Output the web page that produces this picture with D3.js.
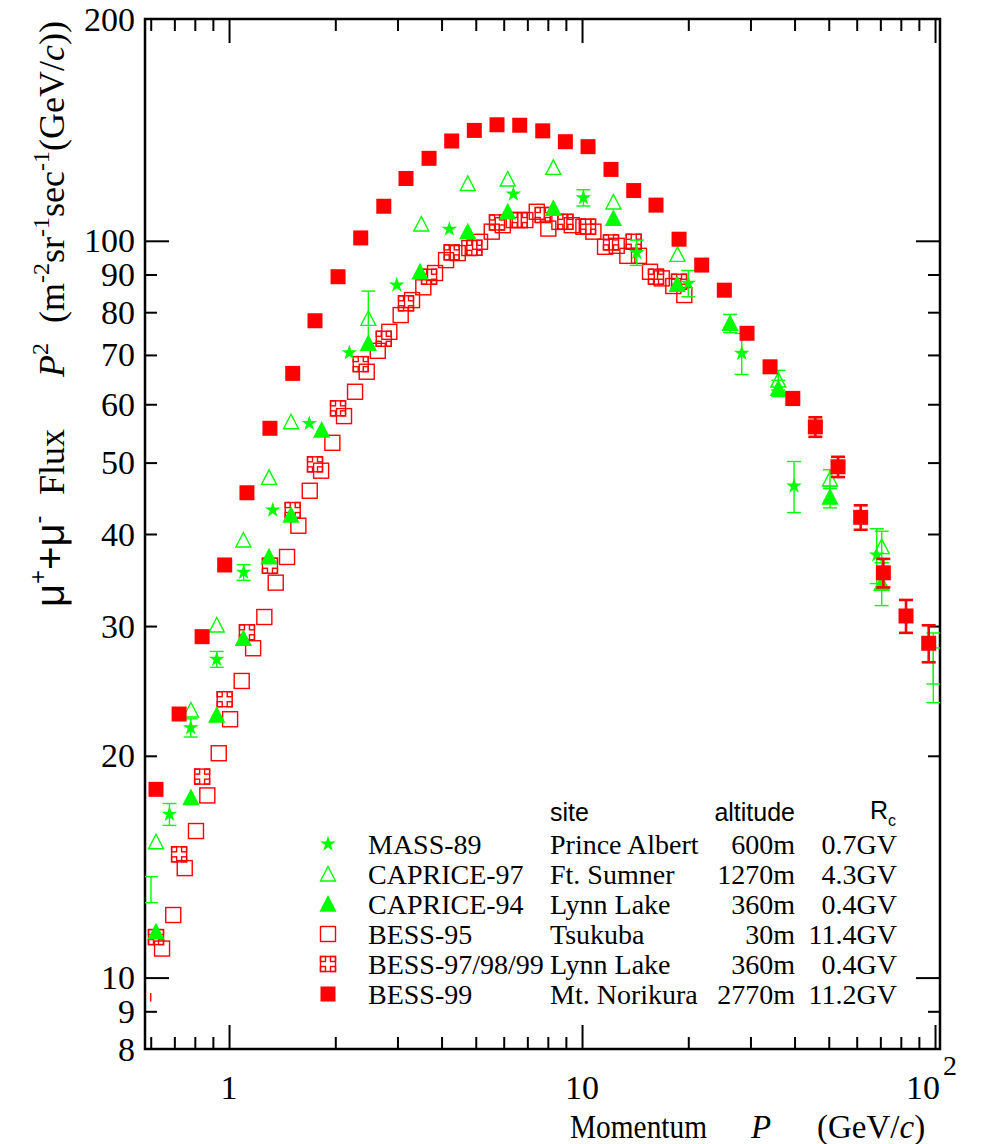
<!DOCTYPE html>
<html><head><meta charset="utf-8">
<script src="https://cdn.jsdelivr.net/npm/d3@7"></script>
<style>body{margin:0;background:#fff} svg{display:block}</style>
</head><body>
<script>
// ---------------- DATA ----------------
// BESS-99 (Mt. Norikura) filled red squares
const bess99P = [0.621,0.722,0.839,0.972,1.124,1.306,1.515,1.752,2.036,2.361,2.744,3.172,3.687,4.274,4.953,5.743,6.661,7.739,8.970,10.40,12.08,14.01,16.20,18.83,21.83,25.30,29.34,34.09,39.54,45.81,53.12,61.58,71.38,82.76,95.98];
const bess99F = [18.01,22.79,29.02,36.31,45.50,55.66,66.08,77.89,89.38,100.9,111.4,121.5,129.4,136.6,141.2,143.7,143.5,141.0,136.3,134.2,125.0,117.0,111.8,100.5,92.7,85.7,74.9,67.45,61.1,55.9,49.35,42.14,35.43,30.96,28.43];
const bess99Err = [0,0,0,0,0,0,0,0,0,0,0,0,0,0,0,0,0,0,0,0,0,0,0,0,0,0,0,0,1.2,1.7,1.56,1.61,1.58,1.59,1.64];
// BESS-97/98/99 (Lynn Lake) crossed red squares
const bess979899P = [0.621,0.722,0.839,0.972,1.124,1.306,1.515,1.752,2.036,2.361,2.744,3.172,3.687,4.274,4.953,5.743,6.661,7.739,8.970,10.40,12.08,14.01,16.20,18.83];
const bess979899F = [11.35,14.70,18.74,23.87,29.42,36.22,43.11,49.73,59.24,68.02,73.62,82.26,89.38,96.44,97.84,105.9,106.7,108.4,106.1,104.5,99.5,99.7,89.38,87.99];
// BESS-95 (Tsukuba) open red squares
const bess95P = [0.646,0.695,0.749,0.806,0.868,0.935,1.007,1.086,1.170,1.259,1.356,1.460,1.572,1.693,1.823,1.962,2.117,2.275,2.455,2.638,2.845,3.064,3.299,3.551,3.833,4.119,4.445,4.794,5.141,5.549,5.963,6.406,6.909,7.442,8.027,8.626,9.351,10.09,10.77,11.62,12.54,13.44,14.50,15.58,16.82,18.14,19.49];
const bess95F = [10.95,12.16,14.08,15.81,17.67,20.16,22.42,25.27,27.99,30.86,34.36,37.23,41.05,45.79,48.75,53.19,57.82,62.39,66.42,70.91,75.24,79.29,83.09,86.47,90.42,94.14,96.23,97.75,99.69,102.9,105.0,106.7,106.7,109.5,103.9,106.1,105.0,104.5,102.9,98.15,98.45,95.41,95.41,90.78,88.92,86.82,84.41];
// MASS-89 (Prince Albert) green stars
const mass89P = [0.678,0.779,0.923,1.100,1.330,1.688,2.192,2.987,4.208,6.390,10.09,14.29,20.00,28.34,39.87,68.37];
const mass89F = [16.66,21.83,27.04,35.48,43.11,56.51,70.47,87.09,103.7,115.7,114.4,96.4,87.55,70.36,46.47,37.46];
const mass89Err = [0.57,0.62,0.67,0.87,0,0,0,0,0,0,2.9,3.8,3.6,4.5,3.7,3.2];
// CAPRICE-97 (Ft. Sumner) open green triangles
const caprice97P = [0.621,0.780,0.923,1.098,1.298,1.498,2.481,3.505,4.745,6.160,8.293,12.27,18.64,35.98,50.41,70.63];
const caprice97F = [15.29,23.08,30.10,39.26,47.75,56.80,78.46,105.4,119.6,121.3,125.8,112.9,95.85,64.71,47.50,38.45];
const caprice97Err = [0,0,0,0,0,0,7,0,0,0,0,0,0,2,1.4,1.9];
// CAPRICE-94 (Lynn Lake) filled green triangles
const caprice94P = [0.621,0.780,0.923,1.098,1.298,1.498,1.830,2.481,3.476,4.745,6.160,8.293,12.27,18.6,26.26,35.98,50.41,70.63];
const caprice94F = [11.54,17.56,22.72,28.87,37.26,42.45,55.36,72.58,90.76,102.9,109.5,110.7,107.3,87.30,77.25,63.06,44.9,34.28];
const caprice94Err = [0,0,0,0,0,0,0,0,0,0,0,0,0,0,2.2,1.6,1.5,2.3];
// error bars whose markers fall off the picture
const looseBarP = [0.601,0.600,98.9,98.9];
const looseBarLo = [12.64,9.28,25.03,23.61];
const looseBarHi = [13.71,9.53,29.36,28.02];
const looseBarColor = ["#00ff00","#ff0000","#00ff00","#00ff00"];
const looseBarCap = [true,false,true,true];

// legend
const legendNames = ["MASS-89","CAPRICE-97","CAPRICE-94","BESS-95","BESS-97/98/99","BESS-99"];
const legendSites = ["Prince Albert","Ft. Sumner","Lynn Lake","Tsukuba","Lynn Lake","Mt. Norikura"];
const legendAlt = ["600m","1270m","360m","30m","360m","2770m"];
const legendRc = ["0.7GV","4.3GV","0.4GV","11.4GV","0.4GV","11.2GV"];
const legendSymbols = ["star","triOpen","triFill","sqOpen","sqCross","sqFill"];
const legendColors = ["#00ff00","#00ff00","#00ff00","#ff0000","#ff0000","#ff0000"];

// ticks
const yLabelTicks = [8,9,10,20,30,40,50,60,70,80,90,100,200];
const yMajorTicks = [10,100];
const yMinorTicks = [9,20,30,40,50,60,70,80,90];
const xMajorTicks = [1,10,100];
const xMinorTicks = [0.6,0.7,0.8,0.9,2,3,4,5,6,7,8,9,20,30,40,50,60,70,80,90];
const xLabelTicks = [1,10,100];

// ---------------- CHART ----------------
const W = 983, H = 1144;
const L = 145, R = 940, T = 19, B = 1049;
const GREEN = "#00ff00", RED = "#ff0000";
const SERIF = "'Liberation Serif','Times New Roman',serif";
const SANS = "'Liberation Sans',Arial,sans-serif";

const svg = d3.select("body").append("svg").attr("width", W).attr("height", H)
  .style("background", "#fff");

const x = d3.scaleLog().domain([0.578, 103.3]).range([L, R]);
const y = d3.scaleLog().domain([8, 200]).range([B, T]);

svg.append("defs").append("clipPath").attr("id", "clip")
  .append("rect").attr("x", L).attr("y", T).attr("width", R - L).attr("height", B - T);

// axes ticks
function axisGroup(axis, tr) {
  const g = svg.append("g").attr("transform", tr).call(axis);
  g.select(".domain").remove();
  g.selectAll(".tick line").attr("stroke", "#000").attr("stroke-width", 2);
  g.selectAll("text").remove();
  return g;
}
axisGroup(d3.axisBottom(x).tickValues(xMajorTicks).tickSizeInner(-24).tickSizeOuter(0), `translate(0,${B})`);
axisGroup(d3.axisBottom(x).tickValues(xMinorTicks).tickSizeInner(-12).tickSizeOuter(0), `translate(0,${B})`);
axisGroup(d3.axisTop(x).tickValues(xMajorTicks).tickSizeInner(-24).tickSizeOuter(0), `translate(0,${T})`);
axisGroup(d3.axisTop(x).tickValues(xMinorTicks).tickSizeInner(-12).tickSizeOuter(0), `translate(0,${T})`);
axisGroup(d3.axisLeft(y).tickValues(yMajorTicks).tickSizeInner(-24).tickSizeOuter(0), `translate(${L},0)`);
axisGroup(d3.axisLeft(y).tickValues(yMinorTicks).tickSizeInner(-12).tickSizeOuter(0), `translate(${L},0)`);
axisGroup(d3.axisRight(y).tickValues(yMajorTicks).tickSizeInner(-24).tickSizeOuter(0), `translate(${R},0)`);
axisGroup(d3.axisRight(y).tickValues(yMinorTicks).tickSizeInner(-12).tickSizeOuter(0), `translate(${R},0)`);

// frame
svg.append("rect").attr("x", L).attr("y", T).attr("width", R - L).attr("height", B - T)
  .attr("fill", "none").attr("stroke", "#000").attr("stroke-width", 2.5);

// y tick labels
svg.append("g").selectAll("text").data(yLabelTicks).join("text")
  .attr("x", L - 10).attr("y", d => y(d)).attr("dy", "0.34em")
  .attr("text-anchor", "end").attr("font-family", SERIF).attr("font-size", 34)
  .text(d => d);

// x tick labels
const xl = svg.append("g").selectAll("text").data(xLabelTicks).join("text")
  .attr("x", d => d === 100 ? x(d) - 29 : x(d)).attr("y", 1099)
  .attr("text-anchor", d => d === 100 ? "start" : "middle")
  .attr("font-family", SERIF).attr("font-size", 34);
xl.each(function(d) {
  const t = d3.select(this);
  if (d === 100) {
    t.append("tspan").text("10");
    t.append("tspan").attr("dy", -24).attr("dx", 3).attr("font-size", 28).text("2");
  } else t.text(d);
});

// x title
const xt = svg.append("text").attr("y", 1138).attr("font-family", SERIF).attr("font-size", 33);
xt.append("tspan").attr("x", 570).attr("textLength", 137).attr("lengthAdjust", "spacingAndGlyphs").text("Momentum");
xt.append("tspan").attr("x", 751).attr("font-style", "italic").text("P");
xt.append("tspan").attr("x", 817).text("(GeV/");
xt.append("tspan").attr("font-style", "italic").text("c");
xt.append("tspan").text(")");

// y title (rotated)
const yt = svg.append("g").attr("transform", "translate(64,607) rotate(-90)");
const mu = yt.append("text").attr("x", 0).attr("y", 0).attr("font-family", SANS).attr("font-size", 40);
mu.append("tspan").text("\u03bc");
mu.append("tspan").attr("dy", -18).attr("font-size", 24).text("+");
mu.append("tspan").attr("dy", 18).text("+\u03bc");
mu.append("tspan").attr("dy", -18).attr("font-size", 24).text("-");
yt.append("text").attr("x", 112).attr("font-family", SERIF).attr("font-size", 36).text("Flux");
const pp = yt.append("text").attr("x", 230).attr("font-family", SERIF).attr("font-size", 36);
pp.append("tspan").attr("font-style", "italic").text("P");
pp.append("tspan").attr("dy", -16).attr("font-size", 24).text("2");
const un = yt.append("text").attr("x", 284).attr("font-family", SERIF).attr("font-size", 36);
un.append("tspan").text("(m");
un.append("tspan").attr("dy", -15).attr("font-size", 24).text("-2");
un.append("tspan").attr("dy", 15).text("sr");
un.append("tspan").attr("dy", -15).attr("font-size", 24).text("-1");
un.append("tspan").attr("dy", 15).text("sec");
un.append("tspan").attr("dy", -15).attr("font-size", 24).text("-1");
un.append("tspan").attr("dy", 15).text("(GeV/");
un.append("tspan").attr("font-style", "italic").text("c");
un.append("tspan").text("))");

// markers
function marker(g, type, cx, cy, color) {
  const s = 7.5;
  if (type === "star") {
    g.append("path").attr("d", d3.symbol(d3.symbolStar, 76)())
      .attr("transform", `translate(${cx},${cy})`).attr("fill", color);
  } else if (type === "triOpen" || type === "triFill") {
    g.append("path").attr("d", `M${cx - 7.5},${cy + 7} L${cx + 7.5},${cy + 7} L${cx},${cy - 7.5} Z`)
      .attr("fill", type === "triFill" ? color : "none").attr("stroke", color).attr("stroke-width", 1.4);
  } else if (type === "sqOpen") {
    g.append("rect").attr("x", cx - s).attr("y", cy - s).attr("width", 2 * s).attr("height", 2 * s)
      .attr("fill", "none").attr("stroke", color).attr("stroke-width", 1.4);
  } else if (type === "sqCross") {
    g.append("rect").attr("x", cx - s).attr("y", cy - s).attr("width", 2 * s).attr("height", 2 * s)
      .attr("fill", "none").attr("stroke", color).attr("stroke-width", 1.4);
    const c = 5;
    [[-s, -s], [s - c, -s], [-s, s - c], [s - c, s - c]].forEach(([dx, dy]) =>
      g.append("rect").attr("x", cx + dx).attr("y", cy + dy).attr("width", c).attr("height", c)
        .attr("fill", "none").attr("stroke", color).attr("stroke-width", 1.4));
  } else if (type === "sqFill") {
    g.append("rect").attr("x", cx - s).attr("y", cy - s).attr("width", 2 * s).attr("height", 2 * s)
      .attr("fill", color);
  }
}

function errBar(g, px, lo, hi, color, sw, cap) {
  g.append("line").attr("x1", px).attr("x2", px).attr("y1", y(lo)).attr("y2", y(hi))
    .attr("stroke", color).attr("stroke-width", sw);
  if (cap) {
    [lo, hi].forEach(v => g.append("line").attr("x1", px - 7).attr("x2", px + 7)
      .attr("y1", y(v)).attr("y2", y(v)).attr("stroke", color).attr("stroke-width", sw));
  }
}

const plot = svg.append("g").attr("clip-path", "url(#clip)");

function series(P, F, E, type, color, sw) {
  const g = plot.append("g");
  P.forEach((p, i) => {
    if (E && E[i] > 0) errBar(g, x(p), F[i] - E[i], F[i] + E[i], color, sw, true);
  });
  P.forEach((p, i) => marker(g, type, x(p), y(F[i]), color));
}

// loose error bars
looseBarP.forEach((p, i) => errBar(plot, x(p), looseBarLo[i], looseBarHi[i], looseBarColor[i], 1.4, looseBarCap[i]));

series(bess95P, bess95F, null, "sqOpen", RED, 1.4);
series(bess979899P, bess979899F, null, "sqCross", RED, 1.4);
series(mass89P, mass89F, mass89Err, "star", GREEN, 1.4);
series(caprice97P, caprice97F, caprice97Err, "triOpen", GREEN, 1.4);
series(caprice94P, caprice94F, caprice94Err, "triFill", GREEN, 1.4);
series(bess99P, bess99F, bess99Err, "sqFill", RED, 2.6);

// legend
const lg = svg.append("g");
lg.append("text").attr("x", 550).attr("y", 821).attr("font-family", SANS).attr("font-size", 25).text("site");
lg.append("text").attr("x", 795).attr("y", 821).attr("text-anchor", "end").attr("font-family", SANS).attr("font-size", 25).text("altitude");
const rc = lg.append("text").attr("x", 870).attr("y", 819).attr("font-family", SANS).attr("font-size", 25);
rc.append("tspan").text("R");
rc.append("tspan").attr("dy", 7).attr("font-size", 16).text("c");
legendNames.forEach((n, i) => {
  const by = 854 + 30 * i;
  marker(lg, legendSymbols[i], 328, by - 10, legendColors[i]);
  lg.append("text").attr("x", 368).attr("y", by).attr("font-family", SERIF).attr("font-size", 28).text(n);
  lg.append("text").attr("x", 550).attr("y", by).attr("font-family", SERIF).attr("font-size", 28).text(legendSites[i]);
  lg.append("text").attr("x", 795).attr("y", by).attr("text-anchor", "end").attr("font-family", SERIF).attr("font-size", 28).text(legendAlt[i]);
  lg.append("text").attr("x", 897).attr("y", by).attr("text-anchor", "end").attr("font-family", SERIF).attr("font-size", 28).text(legendRc[i]);
});
</script>
</body></html>
